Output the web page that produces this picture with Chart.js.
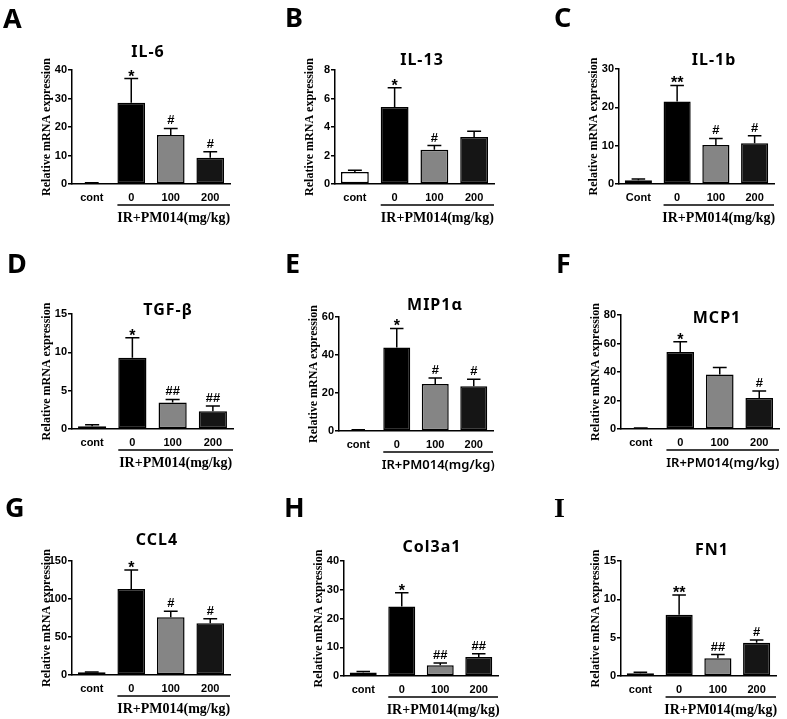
<!DOCTYPE html>
<html>
<head>
<meta charset="utf-8">
<script src="https://cdn.jsdelivr.net/npm/chart.js@4.4.0/dist/chart.umd.min.js"></script>
<style>
  html, body { margin: 0; padding: 0; background: #fff; }
  #wrap { position: relative; width: 787px; height: 719px; }
  canvas { position: absolute; }
</style>
</head>
<body>
<div id="wrap"></div>
<script>
//Datos
const letras = ['A','B','C','D','E','F','G','H','I'];
const genes = ['IL-6','IL-13','IL-1b','TGF-β','MIP1α','MCP1','CCL4','Col3a1','FN1'];
const grupos = ['cont','0','100','200'];
const gruposC = ['Cont','0','100','200'];
const grupoTexto = 'IR+PM014(mg/kg)';
const ejeYTexto = 'Relative mRNA expression';
const yMax = [40, 8, 30, 15, 60, 80, 150, 40, 15];
const yStep = [10, 2, 10, 5, 20, 20, 50, 10, 5];

const il6 = [0.3, 28.5, 17.2, 9.2],    il6Err = [0.1, 8.5, 2.3, 2.1],     il6Sig = ['', '*', '#', '#'];
const il13 = [0.85, 5.4, 2.4, 3.3],    il13Err = [0.12, 1.35, 0.3, 0.4],  il13Sig = ['', '*', '#', ''];
const il1b = [1.0, 21.5, 10.2, 10.6],  il1bErr = [0.3, 4.2, 1.7, 2.0],    il1bSig = ['', '**', '#', '#'];
const tgfb = [0.35, 9.3, 3.45, 2.3],   tgfbErr = [0.2, 2.6, 0.4, 0.7],    tgfbSig = ['', '*', '##', '##'];
const mip1a = [0.5, 44, 24.7, 23.5],   mip1aErr = [0.2, 10, 3.2, 3.7],    mip1aSig = ['', '*', '#', '#'];
const mcp1 = [0.5, 54, 38.3, 21.7],    mcp1Err = [0.2, 7.3, 4.8, 5],      mcp1Sig = ['', '*', '', '#'];
const ccl4 = [3.5, 113, 76, 68],       ccl4Err = [0.6, 25, 8, 6],         ccl4Sig = ['', '*', '#', '#'];
const col3a1 = [1.2, 24.2, 3.7, 6.6],  col3a1Err = [0.4, 4.8, 0.8, 1.1],  col3a1Sig = ['', '*', '##', '##'];
const fn1 = [0.35, 8.0, 2.3, 4.35],    fn1Err = [0.15, 2.55, 0.5, 0.35],  fn1Sig = ['', '**', '##', '#'];

const medias = [il6, il13, il1b, tgfb, mip1a, mcp1, ccl4, col3a1, fn1];
const errores = [il6Err, il13Err, il1bErr, tgfbErr, mip1aErr, mcp1Err, ccl4Err, col3a1Err, fn1Err];
const marcas = [il6Sig, il13Sig, il1bSig, tgfbSig, mip1aSig, mcp1Sig, ccl4Sig, col3a1Sig, fn1Sig];

//Estilo y posiciones
const colores = ['#ffffff', '#000000', '#858585', '#151515'];
const sans = '"Liberation Sans", Arial, sans-serif';
const serif = '"Liberation Serif", "Times New Roman", serif';
const titulo = '"Noto Sans", "Open Sans", sans-serif';

// tile x,y,w,h / area l,r,t,b / titulo tx,ty / letra lx,ly
const paneles = [
  {x:0,   y:0,   w:262, h:240, l:72, r:230, t:70, b:184, tx:148, ty:52, lx:3,  ly:28, gs:false},
  {x:262, y:0,   w:262, h:240, l:73, r:232, t:70, b:184, tx:160, ty:60, lx:23, ly:27, gs:false},
  {x:524, y:0,   w:263, h:240, l:95, r:250, t:69, b:184, tx:190, ty:60, lx:30, ly:27, gs:false},
  {x:0,   y:240, w:262, h:240, l:72, r:233, t:74, b:189, tx:168, ty:70, lx:7,  ly:33, gs:false},
  {x:262, y:240, w:262, h:240, l:77, r:231, t:77, b:191, tx:173, ty:65, lx:23, ly:33, gs:true},
  {x:524, y:240, w:263, h:240, l:97, r:255, t:75, b:189, tx:193, ty:78, lx:32, ly:33, gs:true},
  {x:0,   y:480, w:262, h:239, l:72, r:230, t:81, b:195, tx:157, ty:60, lx:5,  ly:37, gs:false},
  {x:262, y:480, w:262, h:239, l:82, r:236, t:81, b:196, tx:170, ty:67, lx:22, ly:37, gs:false},
  {x:524, y:480, w:263, h:239, l:97, r:252, t:81, b:196, tx:188, ty:70, lx:30, ly:37, gs:false}
];

const ANCHO_Y = 32, ALTO_X = 24;

//Plugin: barras de error, marcas, corchete y textos
const extras = {
  id: 'extras',
  afterDatasetsDraw(chart, args, o) {
    const {ctx, chartArea: ca} = chart;
    const y = chart.scales.y;
    const meta = chart.getDatasetMeta(0);
    ctx.save();
    ctx.strokeStyle = '#000';
    ctx.fillStyle = '#000';
    ctx.lineWidth = 1.5;
    meta.data.forEach((bar, i) => {
      const tope = y.getPixelForValue(o.media[i] + o.err[i]);
      const m = bar.width / 4;
      ctx.beginPath();
      ctx.moveTo(bar.x, bar.y);
      ctx.lineTo(bar.x, tope);
      ctx.moveTo(bar.x - m, tope);
      ctx.lineTo(bar.x + m, tope);
      ctx.stroke();
      const s = o.sig[i];
      if (s) {
        ctx.textAlign = 'center';
        ctx.textBaseline = 'alphabetic';
        if (s[0] === '*') {
          ctx.font = 'bold 16px ' + sans;
          ctx.fillText(s, bar.x, tope + 3);
        } else {
          ctx.font = 'bold 13px ' + sans;
          ctx.fillText(s, bar.x, tope - 4);
        }
      }
    });

    //Corchete del grupo
    const b1 = meta.data[1];
    const x0 = b1.x - b1.width / 2;
    const yl = ca.bottom + 21;
    ctx.beginPath();
    ctx.moveTo(x0, yl);
    ctx.lineTo(ca.right, yl);
    ctx.stroke();
    ctx.textAlign = 'center';
    ctx.textBaseline = 'middle';
    ctx.font = o.gs ? '600 13px ' + titulo : 'bold 14px ' + serif;
    ctx.fillText(grupoTexto, (x0 + ca.right) / 2, ca.bottom + 34);

    //Titulo eje Y
    ctx.save();
    ctx.translate(ca.left - 25, (ca.top + ca.bottom) / 2);
    ctx.rotate(-Math.PI / 2);
    ctx.font = 'bold 12px ' + serif;
    ctx.fillText(ejeYTexto, 0, 0);
    ctx.restore();

    //Titulo del gen
    ctx.font = 'bold 16px ' + titulo;
    ctx.letterSpacing = '1px';
    ctx.fillText(o.gen, o.tx, o.ty);
    ctx.letterSpacing = '0px';

    //Letra del panel
    ctx.textAlign = 'left';
    ctx.textBaseline = 'alphabetic';
    ctx.font = o.letra === 'I' ? 'bold 28px ' + serif : 'bold 27px ' + titulo;
    ctx.fillText(o.letra, o.lx, o.ly);
    ctx.restore();
  }
};

const $wrap = document.getElementById('wrap');

paneles.forEach((p, k) => {
  const cv = document.createElement('canvas');
  cv.width = p.w;
  cv.height = p.h;
  cv.style.left = p.x + 'px';
  cv.style.top = p.y + 'px';
  cv.style.width = p.w + 'px';
  cv.style.height = p.h + 'px';
  $wrap.appendChild(cv);

  new Chart(cv, {
    type: 'bar',
    data: {
      labels: k === 2 ? gruposC : grupos,
      datasets: [{
        data: medias[k],
        backgroundColor: colores,
        borderColor: '#000',
        borderWidth: 1.5,
        borderSkipped: false,
        barPercentage: 0.7,
        categoryPercentage: 1
      }]
    },
    options: {
      responsive: false,
      animation: false,
      devicePixelRatio: 1,
      layout: { padding: { left: p.l - ANCHO_Y, right: p.w - p.r, top: p.t, bottom: p.h - p.b - ALTO_X } },
      plugins: {
        legend: { display: false },
        title: { display: false },
        tooltip: { enabled: false },
        extras: {
          media: medias[k], err: errores[k], sig: marcas[k], gen: genes[k], letra: letras[k],
          tx: p.tx, ty: p.ty, lx: p.lx, ly: p.ly, gs: p.gs
        }
      },
      scales: {
        x: {
          afterFit: (s) => { s.height = ALTO_X; },
          grid: { display: false, drawTicks: false, tickLength: 0 },
          border: { color: '#000', width: 1.5 },
          ticks: { color: '#000', font: { family: sans, weight: 'bold', size: 11 }, padding: 7, maxRotation: 0 }
        },
        y: {
          min: 0,
          max: yMax[k],
          afterFit: (s) => { s.width = ANCHO_Y; },
          grid: { display: true, drawOnChartArea: false, drawTicks: true, tickLength: 4, color: '#000', lineWidth: 1.5 },
          border: { color: '#000', width: 1.5 },
          ticks: { stepSize: yStep[k], color: '#000', font: { family: sans, weight: 'bold', size: 11 }, padding: 1 }
        }
      }
    },
    plugins: [extras]
  });
});
</script>
</body>
</html>
